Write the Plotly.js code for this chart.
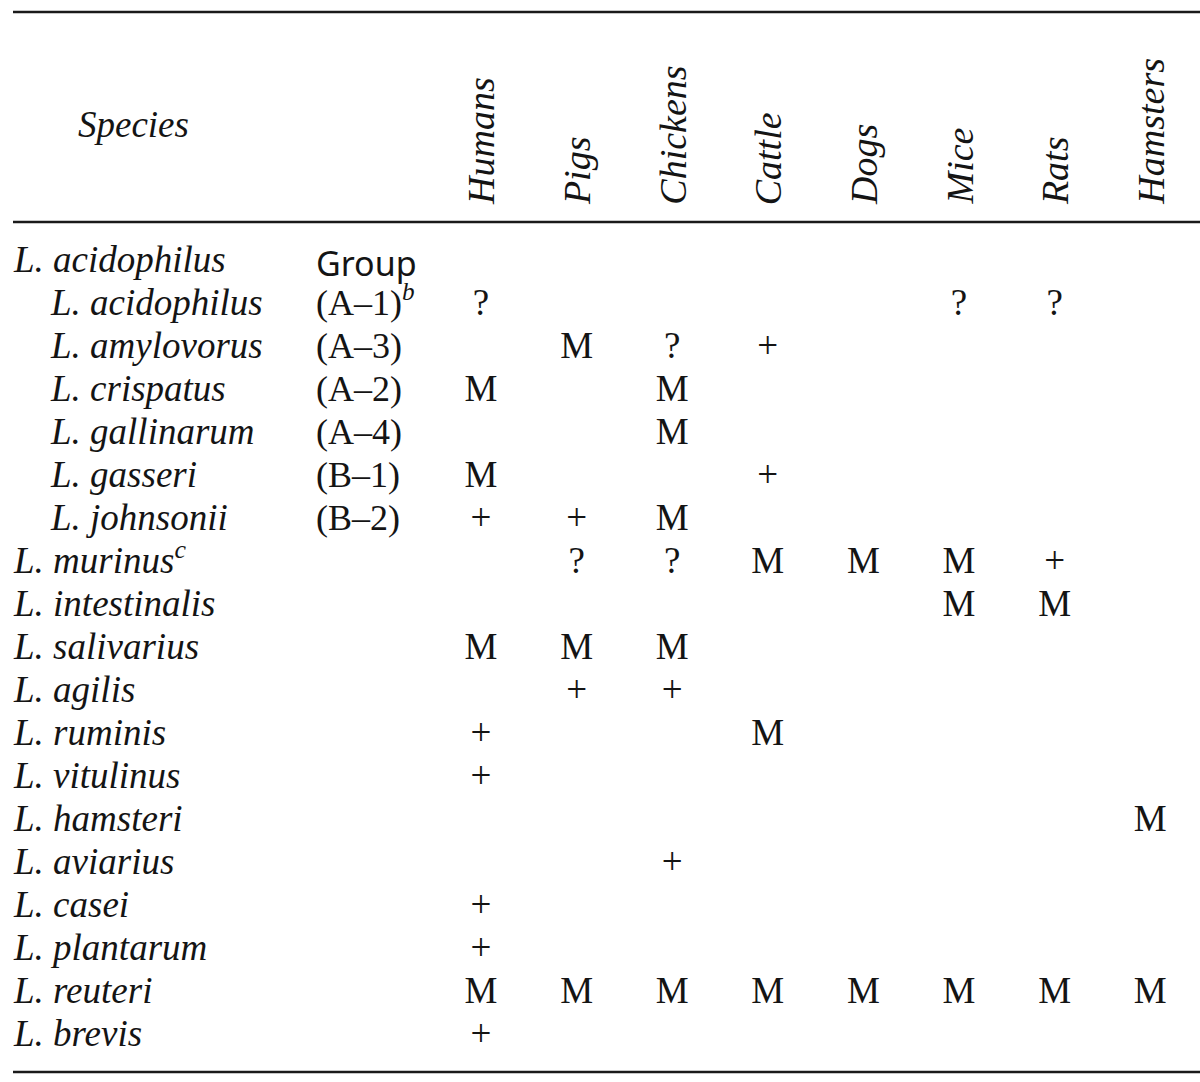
<!DOCTYPE html>
<html><head><meta charset="utf-8">
<script src="https://cdn.plot.ly/plotly-3.0.1.min.js"></script>
<style>html,body{margin:0;padding:0;background:#fff}</style>
</head><body><div id="chart" style="width:1200px;height:1082px"></div>
<script>
// ---- data ----
const hosts = ['Humans','Pigs','Chickens','Cattle','Dogs','Mice','Rats','Hamsters'];
const species = ['L. acidophilus','L. acidophilus','L. amylovorus','L. crispatus','L. gallinarum','L. gasseri','L. johnsonii','L. murinus','L. intestinalis','L. salivarius','L. agilis','L. ruminis','L. vitulinus','L. hamsteri','L. aviarius','L. casei','L. plantarum','L. reuteri','L. brevis'];
const speciesNotes = ['','','','','','','','c','','','','','','','','','','',''];
const subgroupMember = [false,true,true,true,true,true,true,false,false,false,false,false,false,false,false,false,false,false,false];
const groups = ['Group','(A–1)','(A–3)','(A–2)','(A–4)','(B–1)','(B–2)','','','','','','','','','','','',''];
const groupNotes = ['','b','','','','','','','','','','','','','','','','',''];
const humans   = ['','?','','M','','M','+','','','M','','+','+','','','+','+','M','+'];
const pigs     = ['','','M','','','','+','?','','M','+','','','','','','','M',''];
const chickens = ['','','?','M','M','','M','?','','M','+','','','','+','','','M',''];
const cattle   = ['','','+','','','+','','M','','','','M','','','','','','M',''];
const dogs     = ['','','','','','','','M','','','','','','','','','','M',''];
const mice     = ['','?','','','','','','M','M','','','','','','','','','M',''];
const rats     = ['','?','','','','','','+','M','','','','','','','','','M',''];
const hamsters = ['','','','','','','','','','','','','','M','','','','M',''];
const hostValues = [humans,pigs,chickens,cattle,dogs,mice,rats,hamsters];

// ---- layout geometry (pixels) ----
const W = 1200, H = 1082;
const colStart = 481, colStep = 95.6;
const rowStart = 263, rowStep = 43;
const px2x = p => (p - colStart) / colStep;
const py2y = p => (p - rowStart) / rowStep;

const serif = 'Liberation Serif, Times New Roman, serif';
const ink = '#141414';

const traces = [];
const rowIdx = species.map((_, i) => i);

// species names
traces.push({
  type: 'scatter', mode: 'text', hoverinfo: 'skip', showlegend: false,
  x: species.map((_, i) => subgroupMember[i] ? px2x(51) : px2x(14)),
  y: rowIdx,
  text: species.map((s, i) => speciesNotes[i] ? s + '<sup>' + speciesNotes[i] + '</sup>' : s),
  textposition: 'middle right',
  textfont: {family: serif, size: 37, style: 'italic', color: ink}
});
// group codes
const gIdx = groups.map((g, i) => i).filter(i => groups[i] && i > 0);
traces.push({
  type: 'scatter', mode: 'text', hoverinfo: 'skip', showlegend: false,
  x: gIdx.map(() => px2x(316)),
  y: gIdx,
  text: gIdx.map(i => groupNotes[i] ? groups[i] + '<sup><i>' + groupNotes[i] + '</i></sup>' : groups[i]),
  textposition: 'middle right',
  textfont: {family: serif, size: 36, color: ink}
});
// "Group" label (sans)
traces.push({
  type: 'scatter', mode: 'text', hoverinfo: 'skip', showlegend: false,
  x: [px2x(316)], y: [0.1], text: [groups[0]],
  textposition: 'middle right',
  textfont: {family: 'Noto Sans, sans-serif', size: 34, color: ink}
});
// host cells
hosts.forEach((h, c) => {
  const vals = hostValues[c];
  const idx = vals.map((v, i) => i).filter(i => vals[i] !== '');
  traces.push({
    type: 'scatter', mode: 'text', hoverinfo: 'skip', showlegend: false, name: h,
    x: idx.map(() => c), y: idx, text: idx.map(i => vals[i]),
    textposition: 'middle center',
    textfont: {family: serif, size: 37, color: ink}
  });
});

const annotations = [{
  xref: 'x', yref: 'y', x: px2x(133), y: py2y(124), text: 'Species', showarrow: false,
  font: {family: serif, size: 37, style: 'italic', color: ink}, xanchor: 'center', yanchor: 'middle'
}];
hosts.forEach((h, c) => {
  annotations.push({
    xref: 'x', yref: 'y', x: c, y: py2y(207), text: h, showarrow: false, textangle: -90,
    font: {family: serif, size: 38, style: 'italic', color: ink}, xanchor: 'center', yanchor: 'bottom'
  });
});

const rule = (py, w) => ({type: 'line', xref: 'x', yref: 'y', x0: px2x(13), x1: px2x(1200), y0: py2y(py), y1: py2y(py), line: {color: '#1a1a1a', width: w}});

const layout = {
  width: W, height: H, margin: {l: 0, r: 0, t: 0, b: 0},
  paper_bgcolor: '#ffffff', plot_bgcolor: '#ffffff',
  xaxis: {range: [px2x(0), px2x(W)], visible: false, fixedrange: true},
  yaxis: {range: [py2y(H), py2y(0)], visible: false, fixedrange: true},
  shapes: [rule(12, 2.5), rule(222, 2.5), rule(1072, 2.5)],
  annotations: annotations
};

Plotly.newPlot('chart', traces, layout, {staticPlot: true, displayModeBar: false});
</script>
</body></html>
